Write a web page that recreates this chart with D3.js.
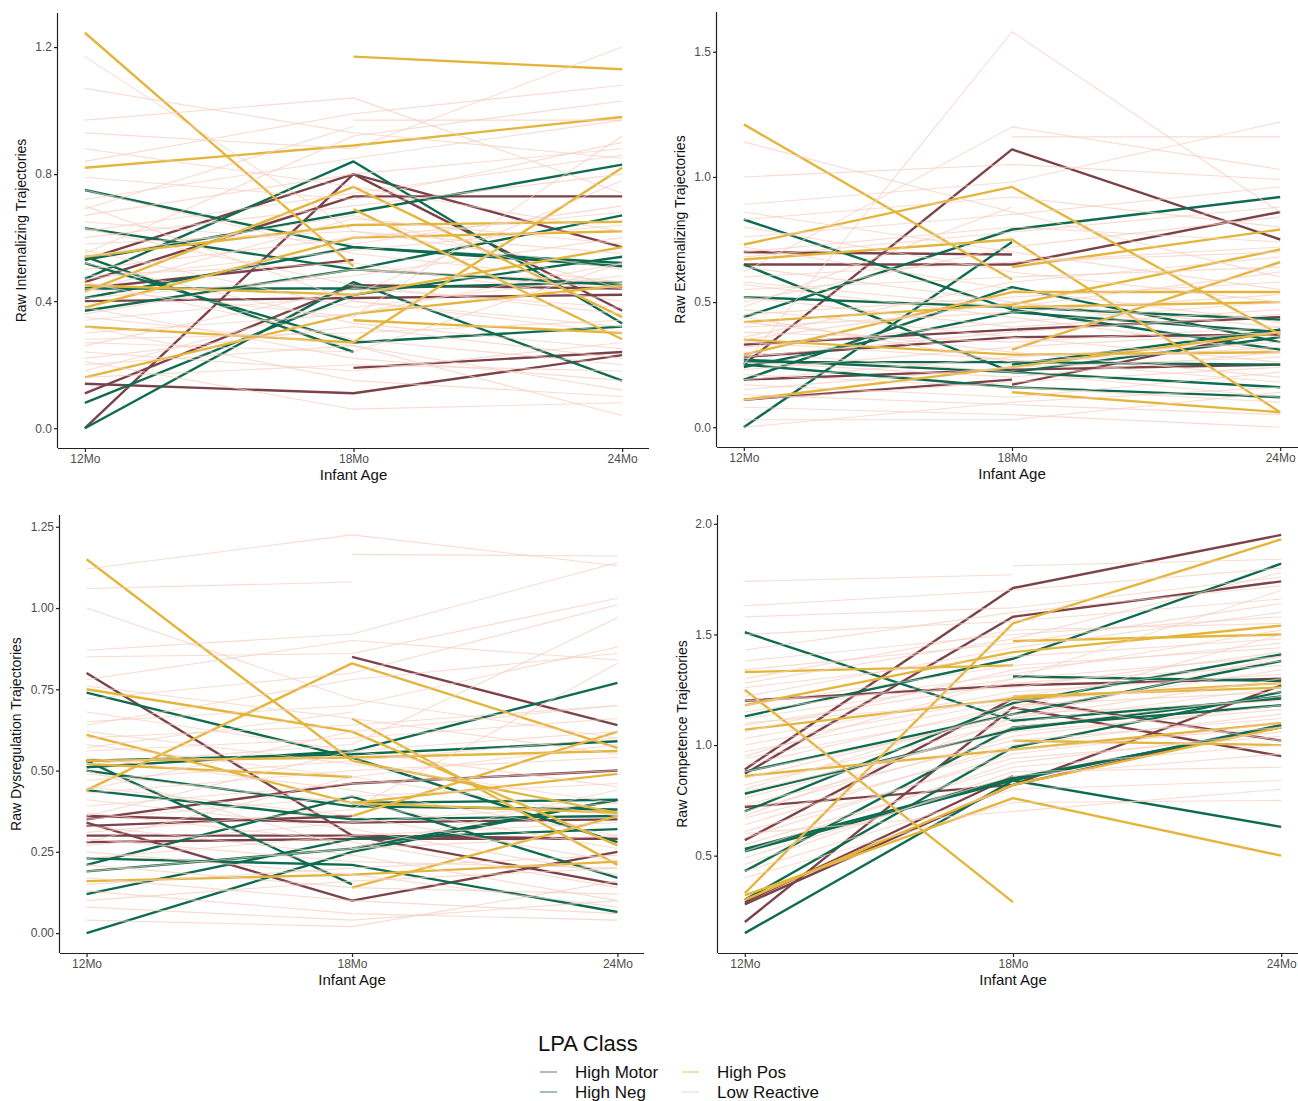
<!DOCTYPE html>
<html>
<head>
<meta charset="utf-8">
<script src="https://cdn.jsdelivr.net/npm/d3@7"></script>
<style>
  body { margin: 0; background: #fff; }
  svg { display: block; font-family: "Liberation Sans", Arial, sans-serif; }
  .axis path, .axis line { stroke: #222; stroke-width: 1.2; }
  .axis text { fill: #4d4d4d; font-size: 12px; }
</style>
</head>
<body>
<div class="chartdiv"></div>
<script>

var ages = ["12Mo", "18Mo", "24Mo"];
var classes = ["High Motor", "High Neg", "High Pos", "Low Reactive"];
var classColors = ["#7b4249", "#0f6b4f", "#e3b53b", "#f5cdbf"];

// each row is one infant: values at 12, 18, 24 months (null = missing)

// --- Internalizing
var intTicks = [0, 0.4, 0.8, 1.2];
var intMotor = [
  [0.00, 0.80, 0.37], [0.53, 0.80, 0.57], [0.46, 0.73, 0.73], [0.14, 0.11, 0.23],
  [null, 0.19, 0.24], [0.40, 0.41, 0.42], [0.44, 0.53, null], [0.11, 0.45, 0.44]
];
var intNeg = [
  [0.75, 0.57, 0.52], [0.00, 0.46, 0.15], [0.54, 0.24, null], [0.52, 0.27, 0.32],
  [0.47, 0.84, 0.33], [0.63, 0.50, 0.45], [0.53, 0.68, 0.83], [0.37, 0.50, 0.67],
  [0.08, 0.42, 0.54], [0.44, 0.44, 0.46], [0.41, 0.57, 0.51]
];
var intPos = [
  [1.245, 0.51, null], [null, 1.17, 1.13], [0.82, 0.89, 0.98], [0.32, 0.27, 0.82],
  [0.16, 0.36, 0.45], [0.54, 0.64, 0.65], [0.43, 0.76, 0.35], [null, 0.69, 0.28],
  [null, 0.34, 0.30], [0.38, 0.60, 0.62], [0.45, 0.42, 0.57]
];
var intLow = [
  [1.17, 0.62, 0.50], [1.07, 0.93, 0.85], [0.97, 1.04, 0.74], [0.93, 0.88, 1.20],
  [0.88, 0.76, 0.62], [0.84, 0.99, 1.08], [0.79, 0.72, 0.90], [0.75, 0.55, 0.46],
  [0.72, 0.85, 0.97], [0.70, 0.40, 0.30], [0.67, 0.80, 0.88], [0.65, 0.58, 0.70],
  [0.63, 0.45, 0.36], [0.60, 0.70, 0.80], [0.58, 0.62, 0.55], [0.56, 0.38, 0.48],
  [0.55, 0.92, 1.03], [0.52, 0.33, 0.25], [0.50, 0.60, 0.68], [0.48, 0.52, 0.40],
  [0.46, 0.28, 0.20], [0.43, 0.66, 0.58], [0.41, 0.48, 0.60], [0.38, 0.22, 0.15],
  [0.36, 0.50, 0.44], [0.34, 0.42, 0.78], [0.32, 0.15, 0.10], [0.30, 0.36, 0.52],
  [0.28, 0.30, 0.34], [0.26, 0.44, 0.38], [0.24, 0.18, 0.27], [0.22, 0.32, 0.22],
  [0.20, 0.26, 0.12], [0.18, 0.40, 0.32], [0.16, 0.20, 0.18], [0.21, 0.06, 0.08],
  [0.62, 0.74, 0.86], [0.47, 0.56, 0.64], [null, 0.97, 0.97], [null, 0.50, 0.46],
  [0.69, 0.95, null], [0.35, 0.26, 0.04], [0.44, 0.35, 0.92], [0.54, 0.67, 0.44],
  [0.27, 0.24, 0.52]
];

// --- Externalizing
var extTicks = [0, 0.5, 1.0, 1.5];
var extMotor = [
  [0.25, 1.11, 0.75], [0.70, 0.69, null], [0.65, 0.65, 0.86], [0.33, 0.39, 0.44],
  [0.28, 0.36, 0.37], [0.19, 0.23, 0.25], [0.11, 0.19, null], [null, 0.17, 0.39]
];
var extNeg = [
  [0.83, 0.47, 0.31], [0.00, 0.74, null], [0.44, 0.79, 0.92], [0.65, 0.22, 0.36],
  [0.52, 0.48, 0.43], [0.25, 0.16, 0.12], [0.27, 0.22, 0.16], [0.19, 0.56, 0.34],
  [0.24, 0.46, 0.38], [null, 0.25, 0.39], [0.26, 0.26, 0.25]
];
var extPos = [
  [1.21, 0.59, null], [0.73, 0.96, 0.37], [0.67, 0.75, 0.06], [null, 0.64, 0.79],
  [0.42, 0.49, 0.71], [0.35, 0.29, 0.30], [null, 0.14, 0.06], [0.11, 0.24, 0.38],
  [null, 0.31, 0.66], [0.29, 0.54, 0.54], [null, 0.48, 0.50]
];
var extLow = [
  [1.14, 0.86, 0.60], [1.00, 1.05, 0.99], [0.89, 0.98, 1.22], [0.86, 0.70, 0.55],
  [0.83, 0.92, 0.80], [0.80, 0.62, 0.50], [0.76, 0.85, 0.96], [0.72, 0.55, 0.42],
  [0.68, 0.78, 0.88], [0.64, 0.50, 0.36], [0.62, 1.20, 1.03], [0.60, 0.66, 0.72],
  [0.57, 0.44, 0.30], [0.55, 0.60, 0.64], [0.52, 0.40, 0.47], [0.50, 0.72, 0.84],
  [0.47, 0.36, 0.26], [0.45, 0.52, 0.58], [0.42, 0.30, 0.20], [0.40, 0.46, 0.53],
  [0.38, 0.34, 0.40], [0.36, 0.58, 0.68], [0.34, 0.27, 0.18], [0.32, 0.42, 0.50],
  [0.30, 0.22, 0.12], [0.28, 0.38, 0.45], [0.26, 0.20, 0.30], [0.25, 1.58, 0.86],
  [0.23, 0.32, 0.38], [0.21, 0.16, 0.10], [0.19, 0.28, 0.34], [0.17, 0.12, 0.22],
  [0.15, 0.24, 0.28], [0.13, 0.09, 0.05], [0.11, 0.18, 0.24], [0.08, 0.05, 0.00],
  [0.03, 0.03, 0.14], [0.00, 0.10, 0.16], [null, 1.16, 1.16], [null, 0.66, 0.70],
  [0.48, 0.88, null], [0.58, 0.48, 0.62], [0.35, 0.50, 0.40], [0.70, 0.80, 0.74],
  [0.44, 0.26, 0.32]
];

// --- Dysregulation
var dysTicks = [0, 0.25, 0.5, 0.75, 1.0, 1.25];
var dysMotor = [
  [0.80, 0.30, 0.15], [null, 0.85, 0.64], [0.34, 0.10, 0.25], [0.35, 0.46, 0.50],
  [0.36, 0.34, 0.35], [0.30, 0.30, 0.29], [0.28, 0.29, 0.29], [0.33, 0.36, null]
];
var dysNeg = [
  [0.74, 0.54, 0.28], [0.00, 0.25, 0.41], [0.53, 0.15, null], [0.51, 0.56, 0.77],
  [0.50, 0.39, 0.38], [0.44, 0.35, 0.36], [0.23, 0.21, 0.065], [0.21, 0.42, 0.17],
  [0.19, 0.26, 0.41], [0.12, 0.29, 0.32], [null, 0.40, 0.41], [0.53, 0.55, 0.59]
];
var dysPos = [
  [1.15, 0.53, 0.37], [0.44, 0.83, 0.57], [0.75, 0.62, 0.27], [0.61, 0.40, 0.37],
  [0.52, 0.48, null], [0.16, 0.18, 0.22], [null, 0.66, 0.21], [null, 0.14, 0.36],
  [null, 0.36, 0.62], [0.53, 0.54, 0.56], [null, 0.40, 0.49]
];
var dysLow = [
  [1.12, 1.225, 1.13], [1.06, 1.08, null], [null, 1.165, 1.16], [1.00, 0.72, 0.60],
  [0.87, 0.92, 1.14], [0.85, 0.86, 1.03], [0.78, 0.90, 0.84], [0.76, 0.66, 0.55],
  [0.72, 0.80, 1.01], [0.68, 0.56, 0.45], [0.65, 0.70, 0.88], [0.62, 0.52, 0.40],
  [0.60, 0.64, 0.70], [0.58, 0.48, 0.36], [0.56, 0.60, 0.66], [0.54, 0.44, 0.30],
  [0.52, 0.58, 0.97], [0.49, 0.40, 0.26], [0.47, 0.53, 0.60], [0.45, 0.36, 0.22],
  [0.43, 0.50, 0.54], [0.41, 0.32, 0.18], [0.39, 0.46, 0.50], [0.37, 0.28, 0.14],
  [0.35, 0.42, 0.46], [0.33, 0.24, 0.10], [0.31, 0.38, 0.83], [0.29, 0.22, 0.20],
  [0.27, 0.34, 0.40], [0.25, 0.18, 0.08], [0.23, 0.30, 0.34], [0.21, 0.14, 0.12],
  [0.19, 0.26, 0.30], [0.17, 0.10, 0.06], [0.15, 0.20, 0.24], [0.13, 0.06, 0.04],
  [0.10, 0.16, 0.20], [0.08, 0.04, 0.10], [0.04, 0.02, 0.16], [0.64, 0.78, 0.86],
  [0.44, 0.62, 0.70], [0.36, 0.56, 0.62], [0.50, 0.26, 0.44], [0.28, 0.48, 0.58],
  [0.57, 0.68, null]
];

// --- Competence
var compTicks = [0.5, 1.0, 1.5, 2.0];
var compMotor = [
  [0.89, 1.71, 1.95], [0.87, 1.58, 1.74], [1.20, 1.27, 1.30], [0.72, 0.82, 1.27],
  [0.57, 1.21, 1.02], [0.20, 1.17, 0.95], [0.29, 0.86, null], [0.28, 0.82, 1.09]
];
var compNeg = [
  [1.51, 1.11, 1.21], [1.13, 1.39, 1.82], [0.52, 0.84, 0.63], [0.15, 0.84, 1.09],
  [0.78, 1.07, 1.22], [0.70, 1.19, 1.41], [0.43, 1.08, 1.18], [0.30, 0.99, 1.24],
  [null, 1.31, 1.29], [0.53, 0.85, 1.08], [0.88, 1.14, 1.38]
];
var compPos = [
  [1.25, 0.29, null], [1.33, 1.36, null], [1.18, 1.42, 1.54], [null, 1.47, 1.50],
  [0.33, 1.55, 1.93], [0.32, 0.76, 0.50], [1.07, 1.21, 1.28], [null, 1.02, 1.00],
  [0.30, 0.82, 1.08], [0.86, 0.98, 1.10], [null, 1.22, 1.26]
];
var compLow = [
  [1.74, 1.77, null], [null, 1.81, 1.84], [1.63, 1.70, 1.80], [1.58, 1.62, 1.76],
  [1.50, 1.56, 1.66], [1.43, 1.60, 1.72], [1.38, 1.50, 1.58], [1.34, 1.46, 1.64],
  [1.30, 1.52, 1.55], [1.26, 1.40, 1.48], [1.22, 1.44, 1.60], [1.18, 1.36, 1.44],
  [1.15, 1.32, 1.52], [1.12, 1.30, 1.40], [1.09, 1.28, 1.36], [1.06, 1.34, 1.46],
  [1.03, 1.24, 1.32], [1.00, 1.22, 1.38], [0.97, 1.20, 1.28], [0.94, 1.16, 1.34],
  [0.91, 1.18, 1.24], [0.88, 1.12, 1.30], [0.85, 1.14, 1.20], [0.82, 1.10, 1.26],
  [0.79, 1.06, 1.16], [0.76, 1.08, 1.22], [0.73, 1.02, 1.12], [0.70, 1.04, 1.18],
  [0.67, 0.98, 1.08], [0.64, 1.00, 1.14], [0.61, 0.94, 1.04], [0.58, 0.96, 1.10],
  [0.55, 0.90, 1.00], [0.52, 0.92, 1.06], [0.49, 0.86, 0.96], [0.46, 0.88, 0.90],
  [0.43, 0.80, 0.84], [0.40, 0.74, 0.75], [0.60, 0.70, 0.80], [1.20, 1.26, 1.42],
  [1.10, 1.20, 1.02], [0.95, 1.30, 1.70], [0.80, 1.16, 1.50], [0.68, 1.12, 1.40],
  [1.28, 1.48, 1.78]
];

var panels = [
  {title: "Raw Internalizing Trajectories", groups: [intMotor, intNeg, intPos, intLow], ticks: intTicks, fmt: ".1f",
   left: 58, top: 13, width: 591, height: 435, titleX: 21},
  {title: "Raw Externalizing Trajectories", groups: [extMotor, extNeg, extPos, extLow], ticks: extTicks, fmt: ".1f",
   left: 717, top: 12, width: 590, height: 435, titleX: 680},
  {title: "Raw Dysregulation Trajectories", groups: [dysMotor, dysNeg, dysPos, dysLow], ticks: dysTicks, fmt: ".2f",
   left: 60, top: 515, width: 584, height: 438, titleX: 16},
  {title: "Raw Competence Trajectories", groups: [compMotor, compNeg, compPos, compLow], ticks: compTicks, fmt: ".1f",
   left: 718, top: 515, width: 590, height: 438, titleX: 682}
];

var svg = d3.select(".chartdiv")
  .append("svg")
  .attr("width", 1298)
  .attr("height", 1101);

panels.forEach(function(p) {
  var g = svg.append("g")
    .attr("transform", "translate(" + p.left + "," + p.top + ")");

  var x = d3.scalePoint().domain(ages).range([0, p.width]).padding(0.1);

  var all = [];
  p.groups.forEach(function(rows) {
    rows.forEach(function(r) { r.forEach(function(v) { if (v != null) all.push(v); }); });
  });
  var lo = d3.min(all), hi = d3.max(all), pad = (hi - lo) * 0.05;
  var y = d3.scaleLinear().domain([lo - pad, hi + pad]).range([p.height, 0]);

  var line = d3.line()
    .defined(function(d) { return d != null; })
    .x(function(d, i) { return x(ages[i]); })
    .y(function(d) { return y(d); });

  // colored classes first, low reactive drawn over them (thin, faint)
  p.groups.forEach(function(rows, ci) {
    var isLow = ci === 3;
    g.append("g").selectAll("path")
      .data(rows)
      .enter().append("path")
      .attr("d", line)
      .attr("fill", "none")
      .attr("stroke", classColors[ci])
      .attr("stroke-opacity", isLow ? 0.7 : 1)
      .attr("stroke-width", isLow ? 1.1 : 2.4)
      .attr("stroke-linejoin", "round");
  });

  g.append("g")
    .classed("axis", true)
    .attr("transform", "translate(0," + p.height + ")")
    .call(d3.axisBottom(x).tickSize(4).tickPadding(2))
    .call(function(a) { a.select(".domain").attr("d", "M0,0.5H" + p.width); });

  g.append("g")
    .classed("axis", true)
    .call(d3.axisLeft(y).tickValues(p.ticks).tickFormat(d3.format(p.fmt)).tickSize(4).tickPadding(2))
    .call(function(a) { a.select(".domain").attr("d", "M-0.5,0V" + p.height); });

  svg.append("text")
    .attr("transform", "translate(" + p.titleX + "," + (p.top + p.height / 2) + ") rotate(-90)")
    .attr("dy", "0.35em")
    .style("text-anchor", "middle")
    .style("font-size", "14px")
    .style("fill", "#111")
    .text(p.title);

  svg.append("text")
    .attr("x", p.left + x("18Mo"))
    .attr("y", p.top + p.height + 27)
    .attr("dy", "0.35em")
    .style("text-anchor", "middle")
    .style("font-size", "15px")
    .style("fill", "#111")
    .text("Infant Age");
});

// legend
var legend = svg.append("g").attr("transform", "translate(538,1030)");
legend.append("text")
  .attr("x", 0).attr("y", 13)
  .attr("dy", "0.35em")
  .style("font-size", "22px")
  .style("fill", "#111")
  .text("LPA Class");

var items = legend.selectAll(".item")
  .data(classes)
  .enter().append("g")
  .attr("transform", function(d, i) {
    return "translate(" + (Math.floor(i / 2) * 142) + "," + (42 + (i % 2) * 20) + ")";
  });
items.append("line")
  .attr("x1", 2).attr("x2", 19)
  .attr("stroke", function(d, i) { return classColors[i]; })
  .attr("stroke-opacity", 0.55)
  .attr("stroke-width", 1.5);
items.append("text")
  .attr("x", 37)
  .attr("dy", "0.35em")
  .style("font-size", "17px")
  .style("fill", "#111")
  .text(function(d) { return d; });

</script>
</body>
</html>
